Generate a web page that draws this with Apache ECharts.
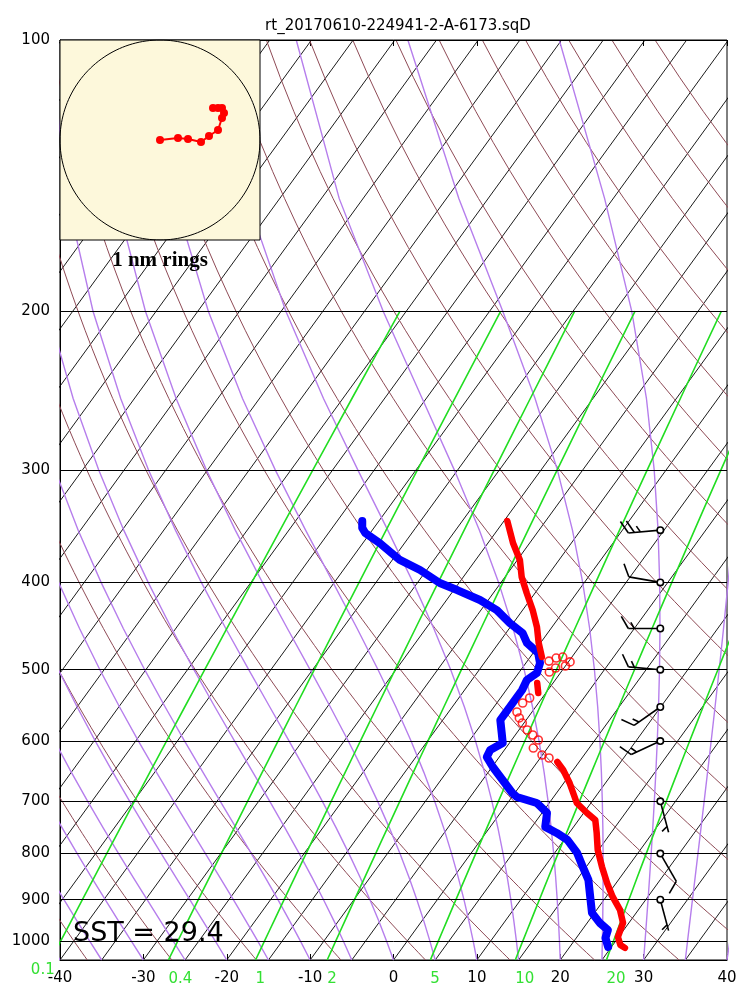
<!DOCTYPE html>
<html><head><meta charset="utf-8">
<script src="https://cdn.jsdelivr.net/npm/echarts@6/dist/echarts.min.js"></script>
<style>html,body{margin:0;padding:0;background:#fff}#c{width:750px;height:1000px}</style>
</head><body><div id="c"></div>
<script>
// ---------------- data ----------------
const TITLE = 'rt_20170610-224941-2-A-6173.sqD';
const SST = 29.4;
const pressureLevels = [100, 200, 300, 400, 500, 600, 700, 800, 900, 1000];
const mixingRatios = [0.1, 0.4, 1, 2, 5, 10, 20];
const mixingLabels = ['0.1', '0.4', '1', '2', '5', '10', '20'];

// temperature profile (hPa, degC); hollow = flagged points drawn as open circles
const tempP = [341.9, 361.7, 377.7, 394.5, 411.0, 429.3, 448.4, 467.1, 484.1,
  489.1, 485.3, 484.1, 490.1, 495.3, 497.8, 503.0,
  517.3, 530.7,
  537.5, 544.4, 557.1, 565.6, 573.0, 583.3, 590.8, 598.4, 610.8, 621.8, 626.6,
  633.0, 646.1, 667.9, 702.9, 721.1, 734.1, 758.9, 792.5, 827.7, 862.3, 893.7, 923.8, 955.0, 989.8, 1010.3, 1018.0];
const tempT = [-24.6, -22.0, -19.7, -18.0, -16.0, -13.8, -11.8, -10.2, -8.6,
  -7.4, -6.8, -6.1, -4.8, -5.0, -6.0, -6.4,
  -6.9, -5.9,
  -6.5, -6.9, -6.8, -6.0, -5.2, -4.0, -2.9, -1.8, -1.7, -0.05, 1.05,
  2.4, 3.8, 5.7, 8.3, 10.4, 12.0, 13.3, 14.9, 16.9, 18.9, 20.8, 22.8, 24.3, 24.9, 25.9, 26.7];
const tempHollow = [0, 0, 0, 0, 0, 0, 0, 0, 0,
  1, 1, 1, 1, 1, 1, 1,
  0, 0,
  1, 1, 1, 1, 1, 1, 1, 1, 1, 1, 1,
  0, 0, 0, 0, 0, 0, 0, 0, 0, 0, 0, 0, 0, 0, 0, 0];

// dewpoint profile
const dewP = [341.9, 348.0, 352.5, 361.7, 377.7, 387.5, 400.6, 407.9, 418.4, 429.3, 443.8, 455.3, 467.1, 479.1, 491.6, 504.3,
  513.3, 526.6, 544.4, 568.6, 587.8, 603.1, 613.9, 625.0, 641.2, 662.8, 685.2, 692.3, 702.9, 721.1, 747.2, 758.9,
  772.6, 798.7, 827.7, 855.7, 893.7, 930.9, 955.0, 972.3, 992.4, 1015.5];
const dewT = [-42.0, -41.4, -40.6, -38.0, -34.1, -30.8, -27.3, -24.6, -21.0, -18.1, -15.4, -13.0, -11.6, -9.4, -8.3, -7.8,
  -8.4, -8.1, -8.1, -8.1, -6.8, -5.8, -6.7, -6.5, -4.9, -2.6, -0.3, 0.6, 3.5, 5.6, 6.6, 8.5,
  10.4, 12.7, 14.6, 16.4, 18.1, 19.7, 21.5, 23.1, 23.5, 24.6];

// winds
const windP = [350, 400, 450, 500, 550, 600, 700, 800, 900];
const windDir = [265, 280, 270, 275, 235, 245, 165, 150, 165];
const windSpd = [25, 10, 15, 15, 15, 15, 5, 10, 5];

// sonde drift (nm east, nm north)
const hodoX = [0, 0.18, 0.28, 0.41, 0.49, 0.58, 0.62, 0.64, 0.62, 0.58, 0.53];
const hodoY = [0, 0.02, 0.01, -0.02, 0.04, 0.10, 0.22, 0.27, 0.32, 0.32, 0.32];

// ---------------- thermodynamics ----------------
const SKEW = 78.5, P_BOT = 1050, P_TOP = 100;
function sx(T, p) { return T + SKEW * Math.log10(P_BOT / p); }
function esat(T) { return 6.112 * Math.exp(17.67 * T / (T + 243.5)); }
function rsat(T, p) { const e = esat(T); return 0.622 * e / (p - e); }
function dTdp(T, p) {
  const Tk = T + 273.15, r = rsat(T, p), L = 2.501e6, Rd = 287.04, cp = 1005.7;
  return (Rd * Tk + L * r) / (p * (cp + L * L * r * 0.622 / (Rd * Tk * Tk)));
}
function mixT(w, p) { const e = w * p / (622 + w); const l = Math.log(e / 6.112); return 243.5 * l / (17.67 - l); }

const isobars = pressureLevels.map(p => ({ coords: [[-40, p], [40, p]] }));
const isotherms = [];
for (let T = -120; T <= 40; T += 5) isotherms.push({ coords: [[sx(T, P_BOT), P_BOT], [sx(T, P_TOP), P_TOP]] });
const dryAd = [];
for (let T0 = -40; T0 <= 160; T0 += 10) {
  const th = T0 + 273.15, c = [];
  for (let p = P_BOT; p >= P_TOP; p -= 10) c.push([sx(th * Math.pow(p / 1000, 0.2857) - 273.15, p), p]);
  dryAd.push({ coords: c });
}
const moistLevels = [];
for (let p = P_BOT; p >= P_TOP; p -= 50) moistLevels.push(p);
const moistAd = [];
for (let T0 = -40; T0 <= 40; T0 += 5) {
  let T = T0; const c = [[sx(T, moistLevels[0]), moistLevels[0]]];
  for (let i = 1; i < moistLevels.length; i++) {
    T = T + dTdp(T, moistLevels[i - 1]) * (moistLevels[i] - moistLevels[i - 1]);
    c.push([sx(T, moistLevels[i]), moistLevels[i]]);
  }
  moistAd.push({ coords: c });
}
const mixLines = mixingRatios.map(w => {
  const c = [];
  for (let p = P_BOT; p >= 200; p -= 25) c.push([sx(mixT(w, p), p), p]);
  return { coords: c };
});

// temperature segments
const tempSeg = []; let cur = null;
tempP.forEach((p, i) => {
  if (!tempHollow[i]) { if (!cur) { cur = []; tempSeg.push(cur); } cur.push([sx(tempT[i], p), p]); }
  else cur = null;
});
const tempHollowPts = tempP.map((p, i) => tempHollow[i] ? [sx(tempT[i], p), p] : null).filter(d => d);
const dewPts = dewP.map((p, i) => [sx(dewT[i], p), p]);

const WIND_X = 32;
const FONT = 'DejaVu Sans';

const chart = echarts.init(document.getElementById('c'), null, { renderer: 'canvas' });
const lineBase = { type: 'lines', coordinateSystem: 'cartesian2d', xAxisIndex: 0, yAxisIndex: 0, silent: true, clip: true, animation: false };

chart.setOption({
  animation: false,
  backgroundColor: '#fff',
  title: { text: TITLE, left: 393, top: 14, textAlign: 'center',
    textStyle: { fontSize: 15, fontWeight: 'normal', fontFamily: FONT, color: '#000' } },
  grid: [
    { left: 60, right: 23, top: 40, bottom: 40, show: true, borderColor: '#000', borderWidth: 1, backgroundColor: 'transparent' },
    { left: 60, top: 40, width: 200, height: 200, show: false }
  ],
  xAxis: [
    { type: 'value', gridIndex: 0, min: -40, max: 40, interval: 10, position: 'bottom',
      axisLine: { onZero: false, lineStyle: { color: '#000' } }, axisTick: { inside: true, length: 6, lineStyle: { color: '#000' } },
      axisLabel: { fontSize: 15, fontFamily: FONT, color: '#000', margin: 11 }, splitLine: { show: false } },
    { type: 'value', gridIndex: 0, min: -40, max: 40, interval: 10, position: 'top',
      axisLine: { onZero: false, lineStyle: { color: '#000' } }, axisTick: { inside: true, length: 6, lineStyle: { color: '#000' } },
      axisLabel: { show: false }, splitLine: { show: false } },
    { type: 'value', gridIndex: 1, min: -1, max: 1, show: false }
  ],
  yAxis: [
    { type: 'log', logBase: 10, gridIndex: 0, min: P_TOP, max: P_BOT, inverse: true, position: 'left',
      axisLine: { onZero: false, lineStyle: { color: '#000' } }, axisTick: { show: false },
      axisLabel: { customValues: pressureLevels, fontSize: 15, fontFamily: FONT, color: '#000', margin: 10,
        formatter: v => String(Math.round(v)) },
      splitLine: { show: false } },
    { type: 'value', gridIndex: 1, min: -1, max: 1, show: false }
  ],
  graphic: [
    { type: 'rect', z: 10, shape: { x: 60, y: 40, width: 200, height: 200 },
      style: { fill: '#FDF8DB', stroke: '#000', lineWidth: 1 } },
    { type: 'text', z: 30, x: 160, y: 261,
      style: { text: '1 nm rings', font: 'bold 21px "Liberation Serif"', fill: '#000', textAlign: 'center', textVerticalAlign: 'middle' } },
    { type: 'text', z: 30, x: 73, y: 934,
      style: { text: 'SST = ' + SST.toFixed(1), font: '27px "DejaVu Sans"', fill: '#000', textAlign: 'left', textVerticalAlign: 'middle' } }
  ],
  series: [
    Object.assign({}, lineBase, { z: 3, data: isotherms, lineStyle: { color: '#000', width: 0.9, opacity: 1 } }),
    Object.assign({}, lineBase, { z: 3, polyline: true, data: dryAd, lineStyle: { color: '#8E4A55', width: 1, opacity: 1 } }),
    Object.assign({}, lineBase, { z: 3, polyline: true, data: moistAd, lineStyle: { color: '#B67EEC', width: 1.4, opacity: 1 } }),
    Object.assign({}, lineBase, { z: 4, polyline: true, data: mixLines, lineStyle: { color: '#22DD22', width: 1.6, opacity: 1 } }),
    Object.assign({}, lineBase, { z: 4, data: isobars, lineStyle: { color: '#000', width: 1, opacity: 1 } }),
    { type: 'line', xAxisIndex: 0, yAxisIndex: 0, z: 6, data: dewPts, showSymbol: false, silent: true,
      lineStyle: { color: '#0000FF', width: 8, cap: 'round', join: 'round' }, clip: true },
    Object.assign({}, lineBase, { z: 7, polyline: true, data: tempSeg.map(s => ({ coords: s })),
      lineStyle: { color: '#FF0000', width: 6.5, opacity: 1, cap: 'round', join: 'round' } }),
    { type: 'scatter', xAxisIndex: 0, yAxisIndex: 0, z: 7, data: tempHollowPts, symbol: 'circle', symbolSize: 8, silent: true,
      itemStyle: { color: 'rgba(255,255,255,0)', borderColor: '#FF0000', borderWidth: 1.6 } },
    { type: 'custom', xAxisIndex: 0, yAxisIndex: 0, z: 8, clip: false, silent: true,
      data: windP.map((p, i) => [WIND_X, p, windDir[i], windSpd[i]]),
      renderItem: function (params, api) {
        const c = api.coord([api.value(0), api.value(1)]);
        const dir = api.value(2) * Math.PI / 180; let spd = api.value(3);
        const L = 32, B = 14, step = 6;
        const ux = Math.sin(dir), uy = -Math.cos(dir);
        const bd = dir + 60 * Math.PI / 180, bx = Math.sin(bd), by = -Math.cos(bd);
        const tip = [c[0] + ux * L, c[1] + uy * L];
        const ch = [{ type: 'line', shape: { x1: c[0], y1: c[1], x2: tip[0], y2: tip[1] }, style: { stroke: '#000', lineWidth: 1.6 } }];
        let k = 0;
        while (spd >= 10) {
          const s = [tip[0] - ux * k * step, tip[1] - uy * k * step];
          ch.push({ type: 'line', shape: { x1: s[0], y1: s[1], x2: s[0] + bx * B, y2: s[1] + by * B }, style: { stroke: '#000', lineWidth: 1.6 } });
          spd -= 10; k++;
        }
        if (spd >= 5) {
          if (k === 0) k = 1;
          const s = [tip[0] - ux * k * step, tip[1] - uy * k * step];
          ch.push({ type: 'line', shape: { x1: s[0], y1: s[1], x2: s[0] + bx * B / 2, y2: s[1] + by * B / 2 }, style: { stroke: '#000', lineWidth: 1.6 } });
        }
        ch.push({ type: 'circle', shape: { cx: c[0], cy: c[1], r: 3.2 }, style: { fill: '#fff', stroke: '#000', lineWidth: 1.6 } });
        return { type: 'group', children: ch };
      } },
    { type: 'custom', xAxisIndex: 0, yAxisIndex: 0, z: 8, clip: false, silent: true,
      data: mixingRatios.map((w, i) => [mixT(w, P_BOT), i]),
      renderItem: function (params, api) {
        const v = api.value(0), i = api.value(1);
        const pt = api.coord([v, P_BOT]);
        const out = v < -40;
        return { type: 'text', style: { x: out ? pt[0] + 4 : pt[0], y: out ? pt[1] + 10 : pt[1] + 19,
          text: mixingLabels[i], fill: '#33E033', font: '15px "DejaVu Sans"',
          textAlign: out ? 'right' : 'left', textVerticalAlign: 'middle' } };
      } },
    { type: 'line', xAxisIndex: 2, yAxisIndex: 1, z: 20, silent: true, showSymbol: false,
      data: Array.from({ length: 181 }, (_, k) => [Math.cos(k * Math.PI / 90), Math.sin(k * Math.PI / 90)]),
      lineStyle: { color: '#000', width: 1 } },
    { type: 'line', xAxisIndex: 2, yAxisIndex: 1, z: 21, silent: true,
      data: hodoX.map((x, i) => [x, hodoY[i]]), symbol: 'circle', symbolSize: 8, showSymbol: true,
      itemStyle: { color: '#FF0000' }, lineStyle: { color: '#FF0000', width: 2 } }
  ]
});
</script></body></html>
